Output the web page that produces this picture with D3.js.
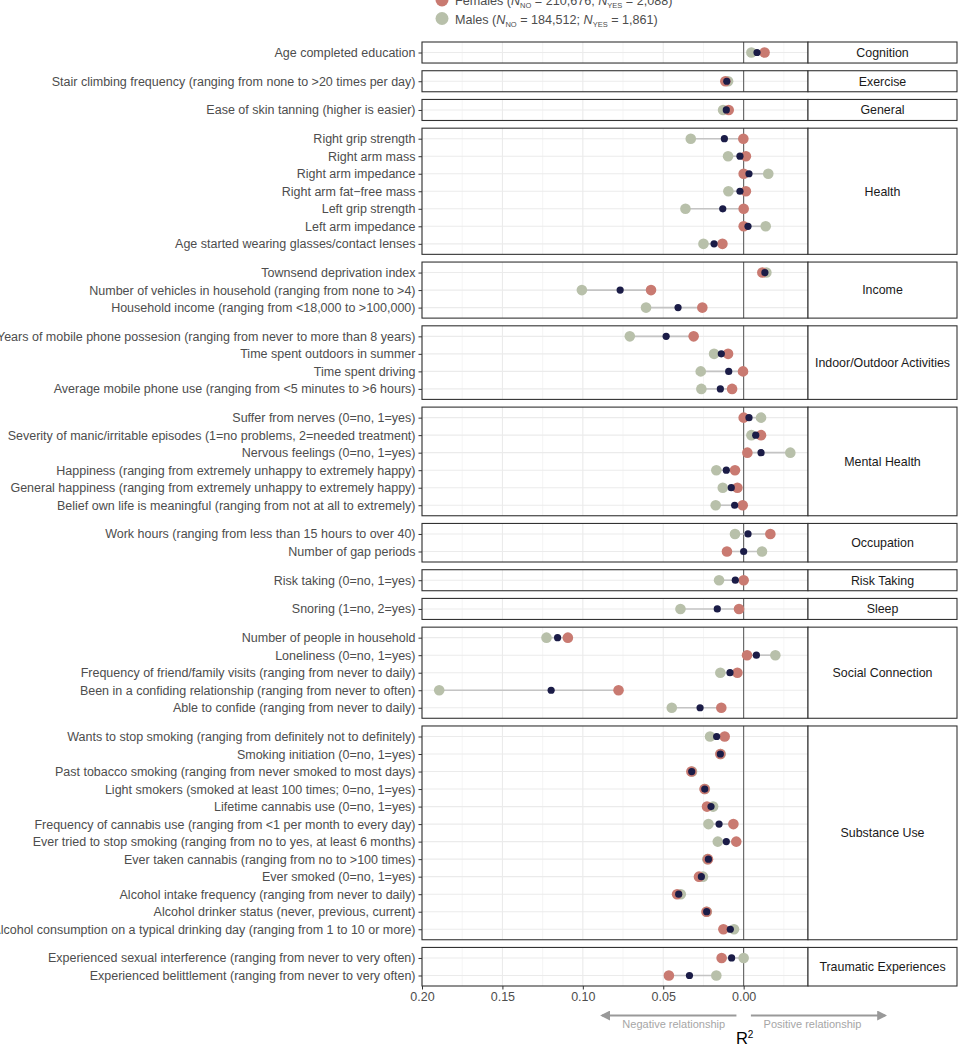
<!DOCTYPE html>
<html>
<head>
<meta charset="utf-8">
<script src="https://cdn.jsdelivr.net/npm/d3@7"></script>
<style>
  body { margin: 0; background: #fff; }
  svg { display: block; font-family: "Liberation Sans", Arial, sans-serif; }
</style>
</head>
<body>
<div id="chart"></div>
<script>
/*#########
  Data
#########*/

// facet (domain) of every item, in the order drawn top to bottom
const domains = [
  "Cognition", "Exercise", "General", "Health", "Income", "Indoor/Outdoor Activities",
  "Mental Health", "Occupation", "Risk Taking", "Sleep", "Social Connection",
  "Substance Use", "Traumatic Experiences"
];

const itemDomain = [
  "Cognition",
  "Exercise",
  "General",
  "Health", "Health", "Health", "Health", "Health", "Health", "Health",
  "Income", "Income", "Income",
  "Indoor/Outdoor Activities", "Indoor/Outdoor Activities", "Indoor/Outdoor Activities", "Indoor/Outdoor Activities",
  "Mental Health", "Mental Health", "Mental Health", "Mental Health", "Mental Health", "Mental Health",
  "Occupation", "Occupation",
  "Risk Taking",
  "Sleep",
  "Social Connection", "Social Connection", "Social Connection", "Social Connection", "Social Connection",
  "Substance Use", "Substance Use", "Substance Use", "Substance Use", "Substance Use", "Substance Use",
  "Substance Use", "Substance Use", "Substance Use", "Substance Use", "Substance Use", "Substance Use",
  "Traumatic Experiences", "Traumatic Experiences"
];

const items = [
  "Age completed education",
  "Stair climbing frequency (ranging from none to >20 times per day)",
  "Ease of skin tanning (higher is easier)",
  "Right grip strength",
  "Right arm mass",
  "Right arm impedance",
  "Right arm fat\u2212free mass",
  "Left grip strength",
  "Left arm impedance",
  "Age started wearing glasses/contact lenses",
  "Townsend deprivation index",
  "Number of vehicles in household (ranging from none to >4)",
  "Household income (ranging from <18,000 to >100,000)",
  "Years of mobile phone possesion (ranging from never to more than 8 years)",
  "Time spent outdoors in summer",
  "Time spent driving",
  "Average mobile phone use (ranging from <5 minutes to >6 hours)",
  "Suffer from nerves (0=no, 1=yes)",
  "Severity of manic/irritable episodes (1=no problems, 2=needed treatment)",
  "Nervous feelings (0=no, 1=yes)",
  "Happiness (ranging from extremely unhappy to extremely happy)",
  "General happiness (ranging from extremely unhappy to extremely happy)",
  "Belief own life is meaningful (ranging from not at all to extremely)",
  "Work hours (ranging from less than 15 hours to over 40)",
  "Number of gap periods",
  "Risk taking (0=no, 1=yes)",
  "Snoring (1=no, 2=yes)",
  "Number of people in household",
  "Loneliness (0=no, 1=yes)",
  "Frequency of friend/family visits (ranging from never to daily)",
  "Been in a confiding relationship (ranging from never to often)",
  "Able to confide (ranging from never to daily)",
  "Wants to stop smoking (ranging from definitely not to definitely)",
  "Smoking initiation (0=no, 1=yes)",
  "Past tobacco smoking (ranging from never smoked to most days)",
  "Light smokers (smoked at least 100 times; 0=no, 1=yes)",
  "Lifetime cannabis use (0=no, 1=yes)",
  "Frequency of cannabis use (ranging from <1 per month to every day)",
  "Ever tried to stop smoking (ranging from no to yes, at least 6 months)",
  "Ever taken cannabis (ranging from no to >100 times)",
  "Ever smoked (0=no, 1=yes)",
  "Alcohol intake frequency (ranging from never to daily)",
  "Alcohol drinker status (never, previous, current)",
  "Alcohol consumption on a typical drinking day (ranging from 1 to 10 or more)",
  "Experienced sexual interference (ranging from never to very often)",
  "Experienced belittlement (ranging from never to very often)"
];

// signed R2 (negative relationship < 0)
const femaleR2 = [
  0.0130,
  -0.0114,
  -0.0093,
  -0.0002, 0.0014, 0.0000, 0.0014, 0.0000, 0.0000, -0.0132,
  0.0116, -0.0576, -0.0257,
  -0.0311, -0.0097, -0.0004, -0.0072,
  0.0000, 0.0108, 0.0023, -0.0054, -0.0039, -0.0006,
  0.0166, -0.0104,
  0.0000,
  -0.0029,
  -0.1093, 0.0021, -0.0039, -0.0778, -0.0139,
  -0.0118, -0.0145, -0.0325, -0.0243, -0.0228, -0.0064, -0.0046, -0.0222, -0.0278, -0.0414, -0.0231, -0.0126,
  -0.0137, -0.0465
];

const maleR2 = [
  0.0048,
  -0.0097,
  -0.0128,
  -0.0329, -0.0097, 0.0153, -0.0095, -0.0362, 0.0137, -0.0250,
  0.0141, -0.1006, -0.0607,
  -0.0708, -0.0184, -0.0267, -0.0263,
  0.0108, 0.0048, 0.0290, -0.0170, -0.0130, -0.0174,
  -0.0054, 0.0114,
  -0.0153,
  -0.0393,
  -0.1226, 0.0197, -0.0145, -0.1893, -0.0447,
  -0.0209, -0.0143, -0.0321, -0.0241, -0.0190, -0.0219, -0.0161, -0.0226, -0.0253, -0.0391, -0.0229, -0.0060,
  0.0000, -0.0170
];

const overallR2 = [
  0.0083,
  -0.0105,
  -0.0108,
  -0.0120, -0.0023, 0.0033, -0.0023, -0.0130, 0.0027, -0.0184,
  0.0132, -0.0768, -0.0408,
  -0.0482, -0.0139, -0.0093, -0.0145,
  0.0033, 0.0075, 0.0108, -0.0108, -0.0077, -0.0056,
  0.0027, 0.0000,
  -0.0052,
  -0.0164,
  -0.1157, 0.0079, -0.0085, -0.1197, -0.0271,
  -0.0168, -0.0145, -0.0323, -0.0242, -0.0203, -0.0153, -0.0108, -0.0219, -0.0263, -0.0404, -0.0230, -0.0083,
  -0.0075, -0.0337
];

const xTicks = [-0.20, -0.15, -0.10, -0.05, 0.00];
const xMinorTicks = [-0.175, -0.125, -0.075, -0.025, 0.025];
const xDomain = [-0.20, 0.04];

/*#########
  Global
#########*/

const W = 960, H = 1046;
const plotLeft = 422, plotRight = 808, stripRight = 957;
const plotTop = 42, plotBottom = 986;
const panelGap = 7.7;
const labelFont = "12.5px";

const colFemale = "#C97A71";
const colMale = "#B8C0AA";
const colAll = "#1B1C47";

const svg = d3.select("#chart")
  .append("svg")
  .attr("width", W)
  .attr("height", H);

const rows = items.map((d, i) => ({
  label: d,
  domain: itemDomain[i],
  female: femaleR2[i],
  male: maleR2[i],
  overall: overallR2[i]
}));

//X scale shared by all panels
const x = d3.scaleLinear()
  .domain(xDomain)
  .range([plotLeft, plotRight]);

//Panel heights follow ggplot discrete expansion (0.6 each side)
const counts = domains.map(dm => rows.filter(r => r.domain === dm).length);
const totalUnits = d3.sum(counts, n => n + 0.2);
const unit = (plotBottom - plotTop - panelGap * (domains.length - 1)) / totalUnits;

let yCursor = plotTop;
domains.forEach((dm, k) => {
  const sub = rows.filter(r => r.domain === dm);
  const h = (counts[k] + 0.2) * unit;
  const top = yCursor, bottom = yCursor + h;
  yCursor = bottom + panelGap;

  const y = d3.scalePoint()
    .domain(sub.map(r => r.label))
    .range([top, bottom])
    .padding(0.6);

  const g = svg.append("g");

  //Panel background
  g.append("rect")
    .attr("x", plotLeft).attr("y", top)
    .attr("width", plotRight - plotLeft).attr("height", h)
    .attr("fill", "#fff");

  //Minor grid
  g.selectAll(".minor")
    .data(xMinorTicks)
    .join("line")
    .attr("x1", d => x(d)).attr("x2", d => x(d))
    .attr("y1", top).attr("y2", bottom)
    .attr("stroke", "#f2f2f2").attr("stroke-width", 0.8);

  //Major grid
  g.selectAll(".majorx")
    .data(xTicks)
    .join("line")
    .attr("x1", d => x(d)).attr("x2", d => x(d))
    .attr("y1", top).attr("y2", bottom)
    .attr("stroke", "#ebebeb").attr("stroke-width", 1.1);

  g.selectAll(".majory")
    .data(sub)
    .join("line")
    .attr("x1", plotLeft).attr("x2", plotRight)
    .attr("y1", d => y(d.label)).attr("y2", d => y(d.label))
    .attr("stroke", "#ebebeb").attr("stroke-width", 1.1);

  //Zero line
  g.append("line")
    .attr("x1", x(0)).attr("x2", x(0))
    .attr("y1", top).attr("y2", bottom)
    .attr("stroke", "#555").attr("stroke-width", 1);

  //Segments between the three estimates
  g.selectAll(".seg")
    .data(sub)
    .join("line")
    .attr("x1", d => x(Math.min(d.female, d.male, d.overall)))
    .attr("x2", d => x(Math.max(d.female, d.male, d.overall)))
    .attr("y1", d => y(d.label)).attr("y2", d => y(d.label))
    .attr("stroke", "#c4c4c4").attr("stroke-width", 1.6);

  //Points
  g.selectAll(".male")
    .data(sub)
    .join("circle")
    .attr("cx", d => x(d.male)).attr("cy", d => y(d.label))
    .attr("r", 5.3).attr("fill", colMale);

  g.selectAll(".female")
    .data(sub)
    .join("circle")
    .attr("cx", d => x(d.female)).attr("cy", d => y(d.label))
    .attr("r", 5.3).attr("fill", colFemale);

  g.selectAll(".overall")
    .data(sub)
    .join("circle")
    .attr("cx", d => x(d.overall)).attr("cy", d => y(d.label))
    .attr("r", 3.6).attr("fill", colAll);

  //Panel border
  g.append("rect")
    .attr("x", plotLeft).attr("y", top)
    .attr("width", plotRight - plotLeft).attr("height", h)
    .attr("fill", "none").attr("stroke", "#333").attr("stroke-width", 1.1);

  //Y axis
  const ya = g.append("g")
    .attr("transform", "translate(" + plotLeft + ",0)")
    .call(d3.axisLeft(y).tickSize(3.5).tickPadding(3));
  ya.select(".domain").remove();
  ya.selectAll("line").attr("stroke", "#333");
  ya.selectAll("text")
    .attr("fill", "#4d4d4d")
    .style("font-size", labelFont)
    .style("font-family", "'Liberation Sans', Arial, sans-serif");

  //Strip
  g.append("rect")
    .attr("x", plotRight).attr("y", top)
    .attr("width", stripRight - plotRight).attr("height", h)
    .attr("fill", "#fff").attr("stroke", "#333").attr("stroke-width", 1.1);
  g.append("text")
    .attr("x", (plotRight + stripRight) / 2)
    .attr("y", (top + bottom) / 2)
    .attr("dy", "0.35em")
    .attr("text-anchor", "middle")
    .attr("fill", "#1a1a1a")
    .style("font-size", "12.4px")
    .text(dm);
});

/*#########
  X Axis
#########*/

const xa = svg.append("g")
  .attr("transform", "translate(0," + plotBottom + ")")
  .call(d3.axisBottom(x).tickValues(xTicks).tickSize(3.5).tickPadding(2.5)
    .tickFormat(d => Math.abs(d).toFixed(2)));
xa.select(".domain").remove();
xa.selectAll("line").attr("stroke", "#333");
xa.selectAll("text")
  .attr("fill", "#4d4d4d")
  .style("font-size", labelFont)
  .style("font-family", "'Liberation Sans', Arial, sans-serif");

//Direction arrows
const defs = svg.append("defs");
defs.append("marker")
  .attr("id", "arrowhead")
  .attr("viewBox", "0 0 10 10")
  .attr("refX", 8).attr("refY", 5)
  .attr("markerWidth", 5).attr("markerHeight", 5)
  .attr("orient", "auto-start-reverse")
  .append("path")
  .attr("d", "M0,0 L10,5 L0,10 z")
  .attr("fill", "#999");

const arrowY = 1015.5;
svg.append("line")
  .attr("x1", x(-0.0045)).attr("x2", x(-0.088))
  .attr("y1", arrowY).attr("y2", arrowY)
  .attr("stroke", "#999").attr("stroke-width", 2)
  .attr("marker-end", "url(#arrowhead)");
svg.append("line")
  .attr("x1", x(0.0045)).attr("x2", x(0.088))
  .attr("y1", arrowY).attr("y2", arrowY)
  .attr("stroke", "#999").attr("stroke-width", 2)
  .attr("marker-end", "url(#arrowhead)");

svg.append("text")
  .attr("x", x(-0.0435)).attr("y", 1027.5)
  .attr("text-anchor", "middle")
  .attr("fill", "#a6a6a6")
  .style("font-size", "11px")
  .text("Negative relationship");
svg.append("text")
  .attr("x", x(0.0428)).attr("y", 1027.5)
  .attr("text-anchor", "middle")
  .attr("fill", "#a6a6a6")
  .style("font-size", "11px")
  .text("Positive relationship");

//Axis title R²
const rt = svg.append("text")
  .attr("x", x(0) + 1).attr("y", 1044)
  .attr("text-anchor", "middle")
  .attr("fill", "#000")
  .style("font-size", "16.5px");
rt.append("tspan").text("R");
rt.append("tspan").attr("dy", -6).style("font-size", "10px").text("2");

/*#########
  Legend
#########*/

const legend = [
  { name: "Females", nNo: "210,676", nYes: "2,088", color: colFemale, y: 0 },
  { name: "Males", nNo: "184,512", nYes: "1,861", color: colMale, y: 18.5 }
];

const lg = svg.selectAll(".legend")
  .data(legend)
  .join("g")
  .attr("transform", d => "translate(442," + d.y + ")");

lg.append("circle")
  .attr("r", 6.5)
  .attr("fill", d => d.color);

lg.each(function(d) {
  const t = d3.select(this).append("text")
    .attr("x", 13).attr("y", 5)
    .attr("fill", "#4d4d4d")
    .style("font-size", "12.6px");
  t.append("tspan").text(d.name + " (");
  t.append("tspan").style("font-style", "italic").text("N");
  t.append("tspan").attr("dy", 3).style("font-size", "7.5px").text("NO");
  t.append("tspan").attr("dy", -3).text(" = " + d.nNo + "; ");
  t.append("tspan").style("font-style", "italic").text("N");
  t.append("tspan").attr("dy", 3).style("font-size", "7.5px").text("YES");
  t.append("tspan").attr("dy", -3).text(" = " + d.nYes + ")");
});
</script>
</body>
</html>
